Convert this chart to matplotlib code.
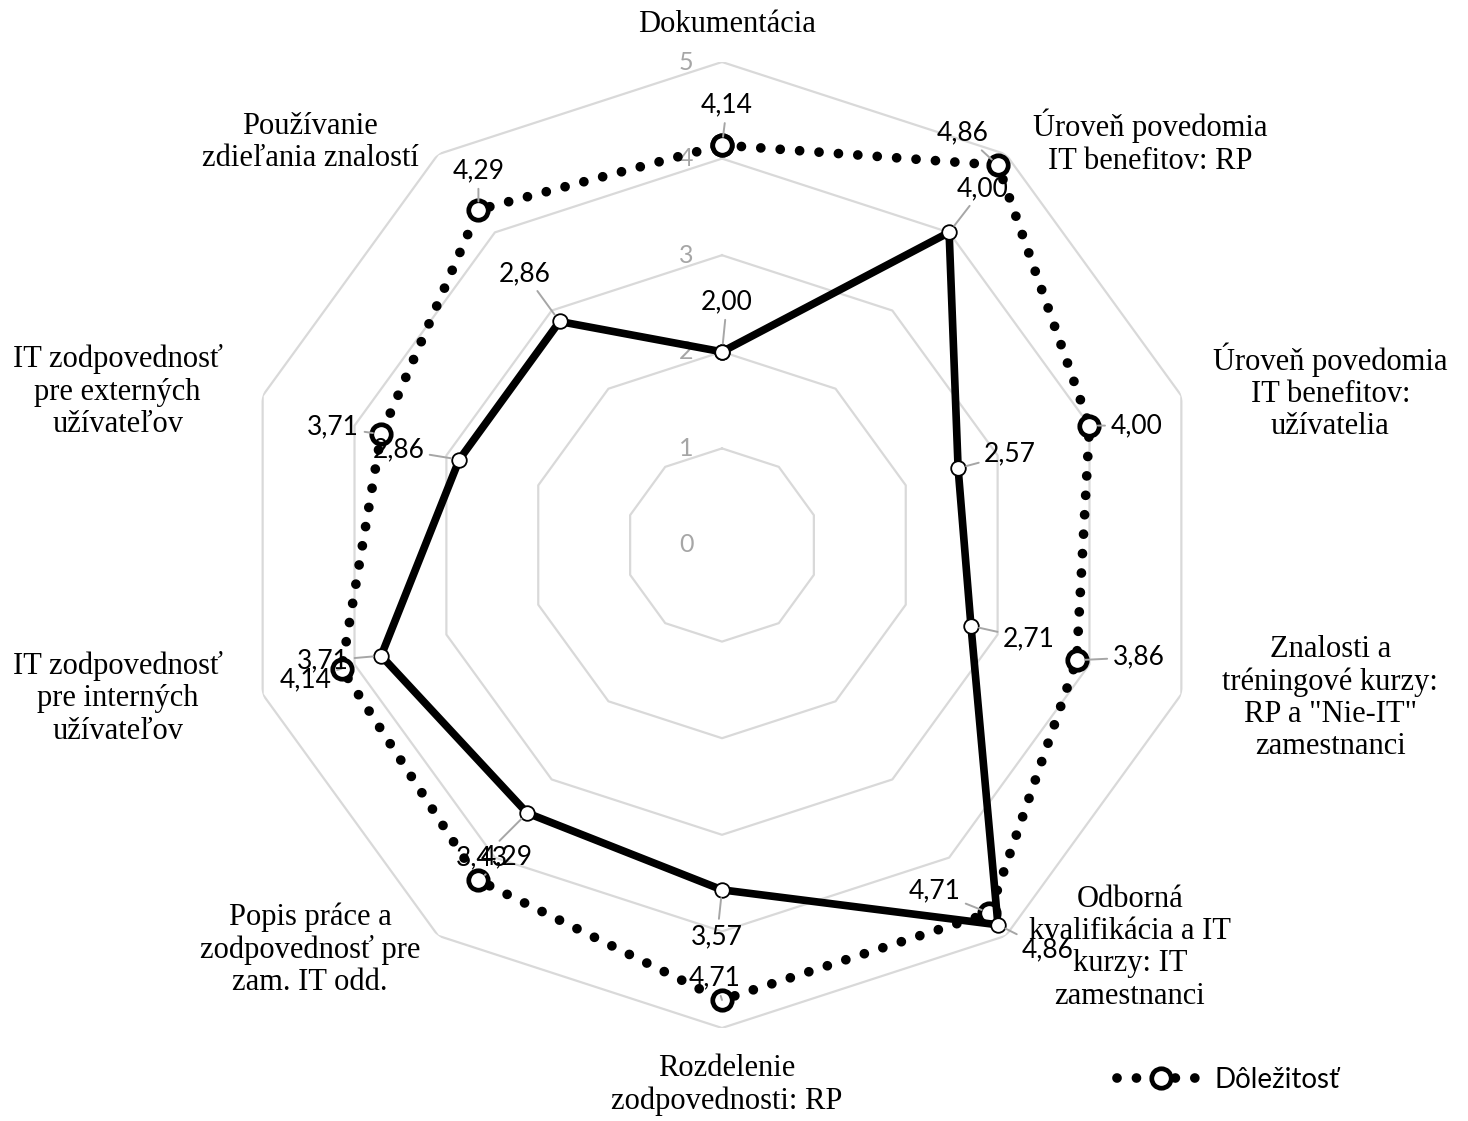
import numpy as np
import matplotlib
matplotlib.use("Agg")
import matplotlib.pyplot as plt
from matplotlib.lines import Line2D

# categories, clockwise from the top
categories = [
    "Dokumentácia",
    "Úroveň povedomia\nIT benefitov: RP",
    "Úroveň povedomia\nIT benefitov:\nužívatelia",
    "Znalosti a\ntréningové kurzy:\nRP a \"Nie-IT\"\nzamestnanci",
    "Odborná\nkvalifikácia a IT\nkurzy: IT\nzamestnanci",
    "Rozdelenie\nzodpovednosti: RP",
    "Popis práce a\nzodpovednosť pre\nzam. IT odd.",
    "IT zodpovednosť\npre interných\nužívateľov",
    "IT zodpovednosť\npre externých\nužívateľov",
    "Používanie\nzdieľania znalostí",
]
dolezitost = [4.14, 4.86, 4.00, 3.86, 4.71, 4.71, 4.29, 4.14, 3.71, 4.29]
stav = [2.00, 4.00, 2.57, 2.71, 4.86, 3.57, 3.43, 3.71, 2.86, 2.86]
ticks = [0, 1, 2, 3, 4, 5]

# label offsets in pixels (x, y up)
cat_off = [(5, 37), (144, 12), (149, 4), (149, -4), (124, -12),
           (5, -57), (-128, -14), (-145, -4), (-145, 4), (-128, 12)]
dol_off = [(5, 40), (-35, 32), (47, 0), (62, 3), (-55, 22),
           (-7, 22), (28, 23), (-36, -11), (-48, 7), (0, 39)]
stav_off = [(5, 50), (34, 44), (52, 14), (58, -13), (50, -25),
            (-5, -47), (-45, -45), (-58, -5), (-61, 10), (-35, 48)]

W, H = 1468, 1121
cx, cy, R = 722, 545, 483
fig = plt.figure(figsize=(W / 100, H / 100), dpi=100)
ax = fig.add_axes([(cx - R) / W, (H - cy - R) / H, 2 * R / W, 2 * R / H], polar=True)
ax.set_theta_offset(np.pi / 2)
ax.set_theta_direction(-1)
ax.set_ylim(0, 5)
ax.grid(False)
ax.spines["polar"].set_visible(False)
ax.set_xticks([])
ax.set_yticks([])
ax.patch.set_alpha(0)

n = len(categories)
theta = np.arange(n) * 2 * np.pi / n
tc = np.append(theta, theta[0])

grid_c = "#d9d9d9"
for t in ticks:
    if t > 0:
        ax.plot(tc, [t] * (n + 1), color=grid_c, lw=1.6, zorder=1)
    ax.annotate(str(t), xy=(0, t), xytext=(-36, 0), textcoords="offset pixels",
                ha="center", va="center", fontsize=18, color="#a6a6a6", family="Lato")

dots = (0, (0.001, 2.0))
dol_c = np.append(dolezitost, dolezitost[0])
st_c = np.append(stav, stav[0])
ax.plot(tc, dol_c, color="black", lw=7, linestyle=dots, dash_capstyle="round",
        marker="o", ms=14, mfc="white", mec="black", mew=3.4, zorder=3)
ax.plot(tc, st_c, color="black", lw=5.5, marker="o", ms=10.5, mfc="white",
        mec="black", mew=1.3, zorder=4)

lab_font = dict(fontsize=19, family="Lato", color="black", ha="center", va="center")
lead = dict(arrowstyle="-", color="#a6a6a6", lw=1.4, shrinkA=2, shrinkB=6)
for i in range(n):
    ax.annotate(f"{dolezitost[i]:.2f}".replace(".", ","), xy=(theta[i], dolezitost[i]),
                xytext=dol_off[i], textcoords="offset pixels", arrowprops=lead,
                zorder=5, **lab_font)
    ax.annotate(f"{stav[i]:.2f}".replace(".", ","), xy=(theta[i], stav[i]),
                xytext=stav_off[i], textcoords="offset pixels", arrowprops=lead,
                zorder=5, **lab_font)
    ax.annotate(categories[i], xy=(theta[i], 5), xytext=cat_off[i],
                textcoords="offset pixels", ha="center", va="center",
                fontsize=22, family="Liberation Serif", linespacing=1.15)

leg_handle = Line2D([], [], color="black", lw=7, linestyle=dots,
                    dash_capstyle="round", marker="o", ms=14, mfc="white",
                    mec="black", mew=3.4)
fig.legend([leg_handle], ["Dôležitosť"], loc="center", bbox_to_anchor=(1228 / W, 1 - 1080 / H),
           frameon=False, prop=dict(family="Lato", size=20), handlelength=3.2,
           handletextpad=0.3)

fig.savefig("out.png", dpi=100)
